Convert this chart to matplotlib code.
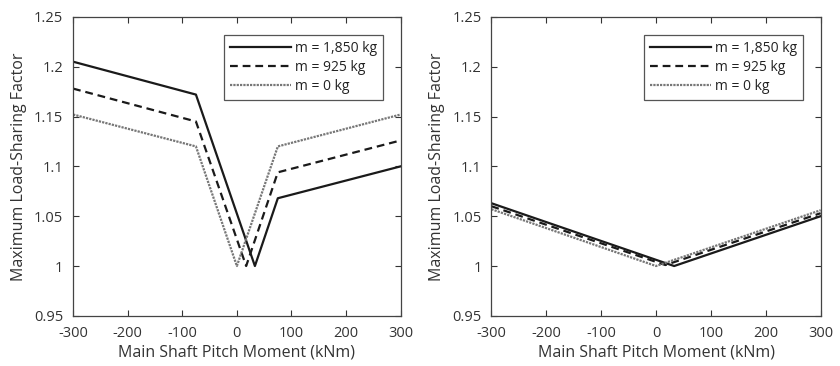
import numpy as np
import matplotlib.pyplot as plt

plt.rcParams['font.family'] = ['Open Sans', 'DejaVu Sans']
plt.rcParams['axes.unicode_minus'] = False

# -----------------------------
# Data
# -----------------------------
labels = ["m = 1,850 kg", "m = 925 kg", "m = 0 kg"]

# left panel
left_x = [
    [-300, -75, 33, 75, 300],
    [-300, -75, 17, 75, 300],
    [-300, -75, 0, 75, 300],
]
left_y = [
    [1.205, 1.172, 1.0, 1.068, 1.100],
    [1.178, 1.145, 1.0, 1.094, 1.126],
    [1.152, 1.120, 1.0, 1.120, 1.152],
]

# right panel
right_x = [
    [-300, 17, 33, 300],
    [-300, 17, 300],
    [-300, 0, 300],
]
right_y = [
    [1.063, 1.003, 1.0, 1.050],
    [1.060, 1.001, 1.053],
    [1.057, 1.0, 1.056],
]

styles = [
    dict(color="#1a1a1a", linestyle="-", linewidth=1.6),
    dict(color="#1a1a1a", linestyle=(0, (3.5, 2.2)), linewidth=1.6),
    dict(color="#777777", linestyle=(0, (1, 0.5)), linewidth=1.6),
]


def draw(ax, xs, ys):
    for x, y, st, lab in zip(xs, ys, styles, labels):
        ax.plot(x, y, label=lab, **st)
    ax.set_xlim(-300, 300)
    ax.set_ylim(0.95, 1.25)
    ax.set_xticks(np.arange(-300, 301, 100))
    ax.set_yticks([0.95, 1.0, 1.05, 1.1, 1.15, 1.2, 1.25])
    ax.set_yticklabels(["0.95", "1", "1.05", "1.1", "1.15", "1.2", "1.25"])
    ax.tick_params(direction="in", top=True, right=True, labelsize=10.5,
                   colors="#333333", length=4, width=0.8)
    ax.tick_params(axis="x", pad=7)
    ax.tick_params(axis="y", pad=7)
    for s in ax.spines.values():
        s.set_color("#444444")
        s.set_linewidth(0.9)
    ax.set_xlabel("Main Shaft Pitch Moment (kNm)", fontsize=11.5, color="#333333", labelpad=3)
    ax.set_ylabel("Maximum Load-Sharing Factor", fontsize=11.5, color="#333333", labelpad=5)
    leg = ax.legend(loc="upper right", fontsize=10, handlelength=4.4,
                    fancybox=False, framealpha=1, edgecolor="#555555",
                    borderpad=0.4, labelspacing=0.3, handletextpad=0.3,
                    bbox_to_anchor=(0.967, 0.962))
    leg.get_frame().set_linewidth(0.9)
    for t in leg.get_texts():
        t.set_color("#222222")


fig = plt.figure(figsize=(8.4, 3.66), dpi=100)
ax1 = fig.add_axes([0.087, 0.137, 0.390, 0.817])
ax2 = fig.add_axes([0.585, 0.137, 0.392, 0.817])

draw(ax1, left_x, left_y)
draw(ax2, right_x, right_y)

fig.savefig("out.png", dpi=100)
